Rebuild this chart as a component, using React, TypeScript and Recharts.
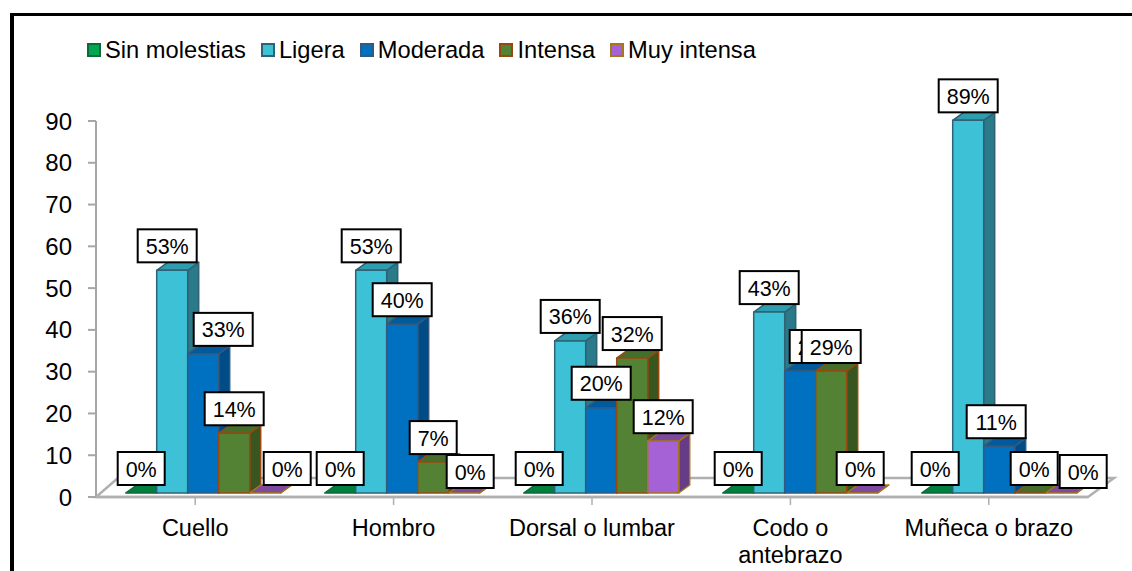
import { BarChart, Bar, XAxis, YAxis, LabelList } from 'recharts';

const categories = ['Cuello', 'Hombro', 'Dorsal o lumbar', 'Codo o\nantebrazo', 'Muñeca o brazo'];
const yTicks = [0, 10, 20, 30, 40, 50, 60, 70, 80, 90];

const sinMolestias = [0, 0, 0, 0, 0];
const ligera = [53.3, 53.3, 36.4, 43.3, 89.2];
const moderada = [33.3, 40.4, 20.4, 29.2, 11.2];
const intensa = [14.3, 7.4, 32.3, 29.2, 0];
const muyIntensa = [0, 0, 12.4, 0, 0];

// hand nudges for the value boxes, same order as the series
const labelNudgesX = [
  [0, 0, 0, 0, -2],
  [-5, 0, 0, 0, 0],
  [20, 0, 0, 19, -3],
  [0, 0, 0, 0, 4],
  [22, 6, 0, -2, 22],
];
const labelNudgesY = [
  [0, 0, 0, 0, 0],
  [0, 0, 0, 0, 0],
  [0, 0, 0, 0, 0],
  [0, 0, 0, 0, 0],
  [0, 3, 0, 0, 3],
];

const series = [
  { key: 'sin', name: 'Sin molestias', values: sinMolestias, front: '#00a651', side: '#006b34', top: '#007f3e', stroke: '#0b6a3a' },
  { key: 'lig', name: 'Ligera', values: ligera, front: '#3dc1d6', side: '#2a7a8a', top: '#2f9db0', stroke: '#2f6274' },
  { key: 'mod', name: 'Moderada', values: moderada, front: '#0070c0', side: '#004c86', top: '#005a9c', stroke: '#34597c' },
  { key: 'int', name: 'Intensa', values: intensa, front: '#548235', side: '#38561f', top: '#466d2a', stroke: '#98480f' },
  { key: 'muy', name: 'Muy intensa', values: muyIntensa, front: '#a561d6', side: '#653c85', top: '#7d4a9f', stroke: '#a5761a' },
];

const data = categories.map((name, i) => {
  const row: Record<string, string | number> = { name };
  series.forEach((s) => {
    row[s.key] = s.values[i];
  });
  return row;
});

const FONT = '"Liberation Sans", Arial, sans-serif';
const DX = 11;
const DY = 8;
const SHIFT_X = 8;
const SHIFT_Y = -4;
// the 3D groups sit slightly wider apart than the axis ticks
const GROUP_DRIFT = 0.6;

function Bar3D(props: any) {
  const { x, y, width, height, index, colors } = props;
  const x0 = x + SHIFT_X + index * GROUP_DRIFT;
  const y0 = y + SHIFT_Y;
  const x1 = x0 + width;
  const y1 = y0 + height;
  return (
    <g stroke={colors.stroke} strokeWidth={1.5} strokeLinejoin="round">
      <polygon fill={colors.side} points={`${x1},${y0} ${x1 + DX},${y0 - DY} ${x1 + DX},${y1 - DY} ${x1},${y1}`} />
      <polygon fill={colors.top} points={`${x0},${y0} ${x0 + DX},${y0 - DY} ${x1 + DX},${y0 - DY} ${x1},${y0}`} />
      {height > 0 && <rect x={x0} y={y0} width={width} height={height} fill={colors.front} />}
    </g>
  );
}

function ValueBox(props: any) {
  const { x, y, width, value, index, seriesIndex } = props;
  const text = `${Math.round(value)}%`;
  const boxW = text.length > 2 ? 59 : 47;
  const boxH = 33;
  const cx = x + SHIFT_X + index * GROUP_DRIFT + width / 2 + labelNudgesX[seriesIndex][index];
  const bottom = y + SHIFT_Y - DY + labelNudgesY[seriesIndex][index];
  return (
    <g>
      <rect x={cx - boxW / 2} y={bottom - boxH} width={boxW} height={boxH} fill="#fff" stroke="#000" strokeWidth={2} />
      <text x={cx} y={bottom - boxH / 2 + 8} textAnchor="middle" fontSize={21.5} fontFamily={FONT} fill="#000">
        {text}
      </text>
    </g>
  );
}

function CategoryTick(props: any) {
  const { x, y, payload } = props;
  const lines = String(payload.value).split('\n');
  return (
    <text x={x} textAnchor="middle" fontSize={23.5} fontFamily={FONT} fill="#000">
      {lines.map((line, i) => (
        <tspan key={line} x={x} y={y + 29 + i * 27}>
          {line}
        </tspan>
      ))}
    </text>
  );
}

function LegendRow() {
  return (
    <div
      style={{
        position: 'absolute',
        left: 87,
        top: 37,
        display: 'flex',
        fontFamily: FONT,
        fontSize: 23.7,
        color: '#000',
        lineHeight: '26px',
        whiteSpace: 'nowrap',
      }}
    >
      {series.map((s) => (
        <div key={s.key} style={{ display: 'flex', alignItems: 'center', marginRight: 15 }}>
          <span
            style={{
              display: 'inline-block',
              boxSizing: 'border-box',
              width: 14,
              height: 14,
              marginRight: 4,
              background: s.front,
              border: `2px solid ${s.stroke}`,
            }}
          />
          {s.name}
        </div>
      ))}
    </div>
  );
}

export default function App() {
  const left = 96;
  const right = 1088;
  const base = 497;
  const yAxisWidth = 46;
  const xAxisHeight = 74;
  return (
    <div style={{ position: 'absolute', left: 0, top: 0, width: 1132, height: 571, overflow: 'hidden', background: '#fff' }}>
      <div
        style={{
          position: 'absolute',
          left: 10,
          top: 13,
          width: 1140,
          height: 600,
          borderLeft: '4px solid #000',
          borderTop: '3px solid #000',
        }}
      />
      <LegendRow />
      <div style={{ position: 'absolute', left: 0, top: 0 }}>
        <BarChart
          width={1132}
          height={571}
          data={data}
          margin={{ top: 121, right: 1132 - right, bottom: 571 - base - xAxisHeight, left: left - yAxisWidth }}
          barCategoryGap={21.7}
          barGap={0}
        >
          <polyline
            points={`${left + 22},478 ${right + 26},478 ${right},${base} ${left},${base} ${left + 22},478`}
            fill="#fff"
            stroke="#b0b0b0"
            strokeWidth={2.5}
          />
          <YAxis
            domain={[0, 90]}
            ticks={yTicks}
            width={yAxisWidth}
            tick={{ fontSize: 24, fontFamily: FONT, fill: '#000' }}
            tickSize={8}
            tickMargin={16}
            axisLine={{ stroke: '#a6a6a6', strokeWidth: 2 }}
            tickLine={{ stroke: '#a6a6a6', strokeWidth: 2 }}
          />
          <XAxis
            dataKey="name"
            interval={0}
            tick={<CategoryTick />}
            tickSize={8}
            axisLine={{ stroke: '#b0b0b0', strokeWidth: 2.5 }}
            tickLine={{ stroke: '#b0b0b0', strokeWidth: 1.5 }}
            height={xAxisHeight}
          />
          <XAxis xAxisId="boxes" dataKey="name" hide />
          {series.map((s) => (
            <Bar
              key={s.key}
              dataKey={s.key}
              name={s.name}
              isAnimationActive={false}
              shape={(p: any) => <Bar3D {...p} colors={s} />}
            />
          ))}
          {series.map((s, seriesIndex) => (
            <Bar
              key={`${s.key}-box`}
              xAxisId="boxes"
              dataKey={s.key}
              legendType="none"
              isAnimationActive={false}
              shape={() => <g />}
            >
              <LabelList dataKey={s.key} content={(p: any) => <ValueBox {...p} seriesIndex={seriesIndex} />} />
            </Bar>
          ))}
        </BarChart>
      </div>
    </div>
  );
}
